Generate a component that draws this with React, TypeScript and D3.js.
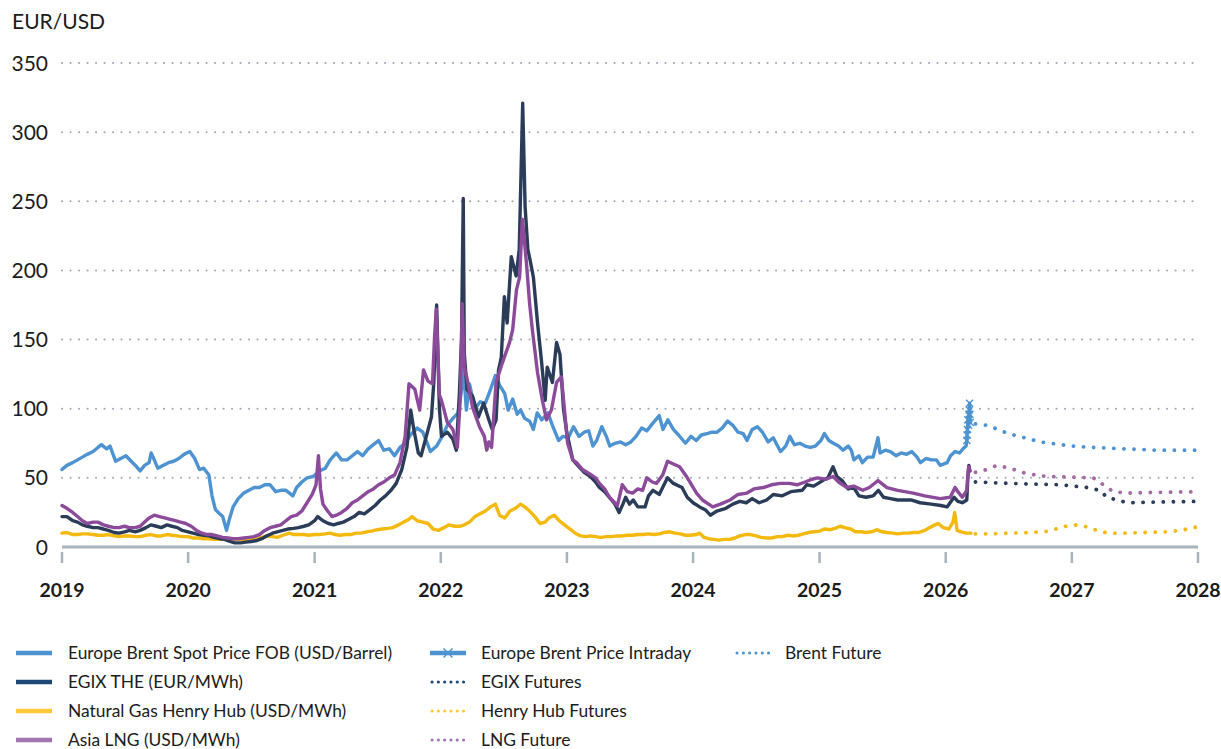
import React from "react";
import * as d3 from "d3";

type P = [string, number];

const yearTicks = [2019, 2020, 2021, 2022, 2023, 2024, 2025, 2026, 2027, 2028];
const yTicks = [0, 50, 100, 150, 200, 250, 300, 350];

const brentSpot: P[] = [
  ["2019-01-01",56],["2019-01-15",59],["2019-02-01",61],["2019-02-15",63],["2019-03-01",65],["2019-03-15",67],["2019-04-01",69],["2019-04-15",72],["2019-04-25",74],["2019-05-10",71],["2019-05-20",73],["2019-06-05",62],["2019-06-20",64],["2019-07-05",66],["2019-07-20",62],["2019-08-05",58],["2019-08-15",55],["2019-08-28",59],["2019-09-10",61],["2019-09-16",68],["2019-09-25",63],["2019-10-05",57],["2019-10-20",59],["2019-11-05",61],["2019-11-20",62],["2019-12-05",64],["2019-12-20",67],["2020-01-06",69],["2020-01-20",64],["2020-02-03",56],["2020-02-15",57],["2020-03-01",52],["2020-03-10",37],["2020-03-20",27],["2020-04-01",24],["2020-04-10",22],["2020-04-21",12],["2020-04-28",19],["2020-05-10",29],["2020-05-25",35],["2020-06-10",39],["2020-06-25",41],["2020-07-10",43],["2020-07-25",43],["2020-08-10",45],["2020-08-25",45],["2020-09-10",40],["2020-09-25",41],["2020-10-10",41],["2020-10-30",37],["2020-11-10",43],["2020-11-25",47],["2020-12-10",50],["2020-12-28",51],["2021-01-15",55],["2021-02-01",57],["2021-02-15",63],["2021-03-05",68],["2021-03-20",63],["2021-04-05",63],["2021-04-20",66],["2021-05-05",69],["2021-05-20",66],["2021-06-05",71],["2021-06-20",74],["2021-07-05",77],["2021-07-20",70],["2021-08-05",71],["2021-08-20",66],["2021-09-05",72],["2021-09-20",75],["2021-10-05",81],["2021-10-25",86],["2021-11-10",83],["2021-11-26",73],["2021-12-02",69],["2021-12-20",73],["2022-01-05",80],["2022-01-20",88],["2022-02-05",93],["2022-02-20",97],["2022-03-01",112],["2022-03-08",128],["2022-03-16",99],["2022-03-25",118],["2022-04-10",100],["2022-04-25",105],["2022-05-10",104],["2022-05-25",114],["2022-06-08",124],["2022-06-20",117],["2022-07-05",111],["2022-07-15",99],["2022-07-28",107],["2022-08-10",96],["2022-08-20",99],["2022-09-01",93],["2022-09-15",91],["2022-09-26",85],["2022-10-07",97],["2022-10-20",92],["2022-11-07",97],["2022-11-20",88],["2022-12-08",77],["2022-12-20",80],["2023-01-05",79],["2023-01-20",87],["2023-02-05",80],["2023-02-20",83],["2023-03-05",84],["2023-03-17",73],["2023-03-28",77],["2023-04-12",87],["2023-04-25",80],["2023-05-05",73],["2023-05-20",75],["2023-06-05",76],["2023-06-20",74],["2023-07-05",76],["2023-07-20",80],["2023-08-05",86],["2023-08-20",84],["2023-09-05",89],["2023-09-25",95],["2023-10-06",85],["2023-10-20",92],["2023-11-05",85],["2023-11-20",81],["2023-12-10",75],["2023-12-26",80],["2024-01-10",77],["2024-01-25",81],["2024-02-10",82],["2024-02-25",83],["2024-03-10",83],["2024-03-25",86],["2024-04-10",91],["2024-04-25",88],["2024-05-10",83],["2024-05-25",82],["2024-06-05",77],["2024-06-20",85],["2024-07-05",87],["2024-07-20",83],["2024-08-05",76],["2024-08-20",79],["2024-09-10",69],["2024-09-25",73],["2024-10-07",80],["2024-10-20",74],["2024-11-05",75],["2024-11-20",73],["2024-12-05",72],["2024-12-20",73],["2025-01-05",77],["2025-01-15",82],["2025-01-28",77],["2025-02-10",75],["2025-02-25",73],["2025-03-10",70],["2025-03-25",73],["2025-04-03",70],["2025-04-10",63],["2025-04-25",66],["2025-05-05",61],["2025-05-20",65],["2025-06-05",65],["2025-06-19",79],["2025-06-25",68],["2025-07-10",70],["2025-07-25",69],["2025-08-10",66],["2025-08-25",68],["2025-09-10",67],["2025-09-25",69],["2025-10-10",65],["2025-10-20",61],["2025-11-05",64],["2025-11-20",63],["2025-12-05",63],["2025-12-16",59],["2026-01-05",61],["2026-01-15",66],["2026-01-28",69],["2026-02-10",68],["2026-02-20",71],["2026-03-01",73],["2026-03-03",77]
];

const brentIntraday: P[] = [
  ["2026-03-03",77],["2026-03-04",81],["2026-03-05",85],["2026-03-06",92],["2026-03-08",88],["2026-03-09",96],["2026-03-10",99],["2026-03-11",104],["2026-03-12",96],["2026-03-13",90]
];

const brentFuture: P[] = [
  ["2026-03-28",89],["2026-05-01",88],["2026-06-01",85],["2026-07-01",82],["2026-08-01",80],["2026-09-01",78],["2026-10-01",76],["2026-11-01",75],["2026-12-01",74],["2027-01-01",73],["2027-03-01",72],["2027-06-01",71],["2027-09-01",70],["2027-12-31",70]
];

const egix: P[] = [
  ["2019-01-01",22],["2019-01-15",22],["2019-02-01",19],["2019-02-15",18],["2019-03-01",16],["2019-03-15",15],["2019-04-01",14],["2019-04-15",14],["2019-05-01",13],["2019-05-15",12],["2019-06-01",10.5],["2019-06-15",10],["2019-07-01",11],["2019-07-15",12],["2019-08-01",11],["2019-08-15",12],["2019-09-01",14],["2019-09-15",16],["2019-10-01",15],["2019-10-15",14],["2019-11-01",16],["2019-11-15",15],["2019-12-01",14],["2019-12-15",12],["2020-01-01",11],["2020-01-15",10],["2020-02-01",9],["2020-02-15",8.5],["2020-03-01",8],["2020-03-15",7],["2020-04-01",6],["2020-04-15",5.5],["2020-05-01",4],["2020-05-15",3],["2020-06-01",3],["2020-06-15",3.5],["2020-07-01",4],["2020-07-15",4.5],["2020-08-01",6],["2020-08-15",8],["2020-09-01",10],["2020-09-15",11],["2020-10-01",12],["2020-10-15",13],["2020-11-01",13.5],["2020-11-15",14],["2020-12-01",15],["2020-12-15",16],["2021-01-01",19],["2021-01-10",22],["2021-01-25",19],["2021-02-10",17],["2021-02-25",16],["2021-03-10",17],["2021-03-25",18],["2021-04-10",20],["2021-04-25",22],["2021-05-10",25],["2021-05-25",24],["2021-06-10",27],["2021-06-25",30],["2021-07-10",34],["2021-07-25",37],["2021-08-10",41],["2021-08-25",46],["2021-09-10",56],["2021-09-25",72],["2021-10-06",99],["2021-10-15",85],["2021-10-28",68],["2021-11-05",66],["2021-11-20",80],["2021-12-05",94],["2021-12-12",120],["2021-12-20",175],["2021-12-28",100],["2022-01-03",80],["2022-01-20",83],["2022-02-05",78],["2022-02-15",70],["2022-02-24",112],["2022-03-02",150],["2022-03-07",252],["2022-03-10",140],["2022-03-18",114],["2022-04-03",109],["2022-04-20",94],["2022-05-05",104],["2022-05-20",92],["2022-05-30",85],["2022-06-10",92],["2022-06-17",128],["2022-06-25",137],["2022-07-04",181],["2022-07-12",162],["2022-07-24",210],["2022-08-07",196],["2022-08-16",215],["2022-08-26",321],["2022-09-02",246],["2022-09-10",215],["2022-09-16",208],["2022-09-26",195],["2022-10-08",162],["2022-10-20",133],["2022-10-30",106],["2022-11-05",130],["2022-11-20",119],["2022-12-02",148],["2022-12-12",139],["2022-12-22",100],["2023-01-01",82],["2023-01-18",63],["2023-02-05",58],["2023-02-20",54],["2023-03-10",51],["2023-03-25",47],["2023-04-05",43],["2023-04-20",40],["2023-05-10",34],["2023-05-20",31],["2023-06-01",25],["2023-06-12",31],["2023-06-20",36],["2023-07-01",31],["2023-07-12",34],["2023-07-25",29],["2023-08-15",29],["2023-08-25",37],["2023-09-07",41],["2023-09-25",38],["2023-10-19",50],["2023-11-05",46],["2023-11-30",43],["2023-12-15",36],["2024-01-01",32],["2024-01-20",29],["2024-02-05",27],["2024-02-20",23],["2024-03-10",26],["2024-04-05",28],["2024-04-25",31],["2024-05-15",33],["2024-06-03",32],["2024-06-20",35],["2024-07-10",32],["2024-08-01",34],["2024-08-20",38],["2024-09-15",37],["2024-10-10",40],["2024-11-12",41],["2024-11-25",45],["2024-12-15",44],["2024-12-28",46],["2025-01-10",48],["2025-01-25",50],["2025-02-09",58],["2025-02-20",51],["2025-03-07",48],["2025-03-25",42],["2025-04-10",43],["2025-04-25",37],["2025-05-16",36],["2025-06-05",37],["2025-06-20",41],["2025-07-05",36],["2025-07-25",35],["2025-08-15",34],["2025-09-22",34],["2025-10-19",32],["2025-11-20",31],["2025-12-18",30],["2026-01-05",29],["2026-01-25",36],["2026-02-05",33],["2026-02-18",32],["2026-03-03",34],["2026-03-06",50],["2026-03-09",59],["2026-03-12",55]
];

const egixFutures: P[] = [
  ["2026-03-28",47],["2026-07-05",46],["2026-11-28",45],["2027-02-14",43],["2027-03-23",41],["2027-04-12",36],["2027-05-11",34],["2027-06-10",32],["2027-09-01",32.5],["2027-12-31",33]
];

const henryHub: P[] = [
  ["2019-01-01",10],["2019-01-15",10.5],["2019-02-01",9],["2019-02-15",9],["2019-03-01",9.5],["2019-03-15",9.5],["2019-04-01",9],["2019-04-15",8.5],["2019-05-01",8.5],["2019-05-15",9],["2019-06-01",8],["2019-06-15",7.5],["2019-07-01",8],["2019-07-15",8],["2019-08-01",7.5],["2019-08-15",7.5],["2019-09-01",8.5],["2019-09-15",9],["2019-10-01",8],["2019-10-15",8],["2019-11-01",9],["2019-11-15",8.5],["2019-12-01",8],["2019-12-15",7.5],["2020-01-01",7.5],["2020-01-15",6.5],["2020-02-01",6.5],["2020-02-15",6],["2020-03-01",6],["2020-03-15",5.5],["2020-04-01",5.5],["2020-04-15",6],["2020-05-01",6],["2020-05-15",5.5],["2020-06-01",5.5],["2020-06-15",5.5],["2020-07-01",6],["2020-07-15",6],["2020-08-01",7],["2020-08-15",8],["2020-09-01",7.5],["2020-09-15",7],["2020-10-01",8.5],["2020-10-20",10],["2020-11-01",9],["2020-11-15",9],["2020-12-01",9],["2020-12-15",8.5],["2021-01-01",9],["2021-01-15",9],["2021-02-01",9.5],["2021-02-15",10],["2021-03-01",9],["2021-03-15",8.5],["2021-04-01",9],["2021-04-15",9],["2021-05-01",10],["2021-05-15",10],["2021-06-01",11],["2021-06-15",11.5],["2021-07-01",12.5],["2021-07-15",13],["2021-08-01",13.5],["2021-08-15",14],["2021-09-01",16],["2021-09-15",18],["2021-10-01",20],["2021-10-10",22],["2021-10-25",19],["2021-11-10",18],["2021-11-25",17],["2021-12-10",13],["2021-12-25",12],["2022-01-10",14],["2022-01-25",16],["2022-02-10",15],["2022-02-25",15],["2022-03-10",16],["2022-03-25",18],["2022-04-10",22],["2022-04-25",24],["2022-05-10",26],["2022-05-25",29],["2022-06-08",31],["2022-06-20",23],["2022-07-05",21],["2022-07-20",26],["2022-08-05",28],["2022-08-20",31],["2022-09-01",29],["2022-09-15",26],["2022-09-30",22],["2022-10-15",17],["2022-10-30",18],["2022-11-10",21],["2022-11-25",23],["2022-12-10",19],["2022-12-25",16],["2023-01-10",13],["2023-01-25",10],["2023-02-10",8],["2023-02-25",7.5],["2023-03-10",8],["2023-03-25",7.5],["2023-04-10",7],["2023-04-25",7.5],["2023-05-10",7.5],["2023-05-25",8],["2023-06-10",8],["2023-06-25",8.5],["2023-07-10",8.5],["2023-07-25",9],["2023-08-10",9],["2023-08-25",9.5],["2023-09-10",9],["2023-09-25",9.5],["2023-10-10",10.5],["2023-10-25",11],["2023-11-10",10],["2023-11-25",9.5],["2023-12-10",8.5],["2023-12-25",8.5],["2024-01-10",9],["2024-01-20",10],["2024-02-01",7],["2024-02-15",6],["2024-03-01",5.5],["2024-03-15",5],["2024-04-01",5.5],["2024-04-15",5.5],["2024-05-01",6.5],["2024-05-15",8],["2024-06-01",9],["2024-06-15",9],["2024-07-01",8],["2024-07-15",7],["2024-08-01",6.5],["2024-08-15",6.5],["2024-09-01",7.5],["2024-09-15",7.5],["2024-10-01",8.5],["2024-10-15",8],["2024-11-01",8.5],["2024-11-15",9.5],["2024-12-01",10.5],["2024-12-15",11],["2025-01-01",11.5],["2025-01-15",13],["2025-02-01",12.5],["2025-02-15",13.5],["2025-03-01",15],["2025-03-15",14],["2025-04-01",13],["2025-04-15",11],["2025-05-01",11],["2025-05-15",10.5],["2025-06-01",11],["2025-06-15",12.5],["2025-07-01",11],["2025-07-15",10.5],["2025-08-01",10],["2025-08-15",9.5],["2025-09-01",10],["2025-09-15",10],["2025-10-01",10.5],["2025-10-15",10.5],["2025-11-01",12],["2025-11-15",14],["2025-12-01",16],["2025-12-10",17],["2025-12-25",14],["2026-01-10",13],["2026-01-22",18],["2026-01-27",25],["2026-02-03",12],["2026-02-15",11],["2026-03-01",10],["2026-03-15",10]
];

const henryHubFutures: P[] = [
  ["2026-03-28",9.5],["2026-05-01",9.5],["2026-07-01",10],["2026-09-01",10.5],["2026-10-15",11],["2026-11-15",13],["2026-12-15",15],["2027-01-15",16],["2027-02-15",14.5],["2027-03-15",12],["2027-04-15",10],["2027-06-01",10],["2027-08-01",10.5],["2027-10-01",11],["2027-11-15",12],["2027-12-15",14],["2027-12-31",14.5]
];

const asiaLng: P[] = [
  ["2019-01-01",30],["2019-01-15",28],["2019-02-01",25],["2019-02-15",22],["2019-03-01",19],["2019-03-15",17],["2019-04-01",18],["2019-04-15",18],["2019-05-01",16],["2019-05-15",15],["2019-06-01",14],["2019-06-15",14],["2019-07-01",15],["2019-07-15",14],["2019-08-01",14],["2019-08-15",15],["2019-09-01",19],["2019-09-10",21],["2019-09-25",23],["2019-10-10",22],["2019-10-25",21],["2019-11-10",20],["2019-11-25",19],["2019-12-10",18],["2019-12-25",17],["2020-01-10",15],["2020-01-25",12],["2020-02-10",10],["2020-02-25",9],["2020-03-10",9],["2020-03-25",8],["2020-04-10",7],["2020-04-25",6.5],["2020-05-10",6],["2020-05-25",6],["2020-06-10",6.5],["2020-06-25",7],["2020-07-10",7.5],["2020-07-25",9],["2020-08-10",12],["2020-08-25",14],["2020-09-10",15],["2020-09-25",16],["2020-10-10",19],["2020-10-25",22],["2020-11-10",23],["2020-11-25",26],["2020-12-10",32],["2020-12-25",38],["2021-01-05",45],["2021-01-12",66],["2021-01-18",42],["2021-01-25",31],["2021-02-05",27],["2021-02-20",22],["2021-03-05",23],["2021-03-20",25],["2021-04-05",28],["2021-04-20",32],["2021-05-05",34],["2021-05-20",37],["2021-06-05",40],["2021-06-20",42],["2021-07-05",45],["2021-07-20",47],["2021-08-05",50],["2021-08-20",52],["2021-09-05",61],["2021-09-20",80],["2021-10-01",118],["2021-10-18",114],["2021-11-01",99],["2021-11-12",128],["2021-11-25",120],["2021-12-08",118],["2021-12-14",152],["2021-12-19",172],["2021-12-28",110],["2022-01-03",106],["2022-01-20",90],["2022-02-05",85],["2022-02-18",72],["2022-02-27",110],["2022-03-04",176],["2022-03-10",130],["2022-03-17",123],["2022-04-03",101],["2022-04-23",87],["2022-05-07",80],["2022-05-14",70],["2022-05-20",76],["2022-05-28",72],["2022-06-10",119],["2022-06-28",133],["2022-07-19",148],["2022-07-28",157],["2022-08-08",186],["2022-08-17",195],["2022-08-25",237],["2022-09-06",205],["2022-09-15",176],["2022-09-23",157],["2022-10-08",126],["2022-10-22",106],["2022-11-03",92],["2022-11-17",99],["2022-12-02",119],["2022-12-16",123],["2022-12-25",99],["2023-01-03",75],["2023-01-18",63],["2023-01-29",61],["2023-02-15",56],["2023-03-07",53],["2023-03-25",50],["2023-04-05",46],["2023-04-20",42],["2023-05-04",36],["2023-05-27",30],["2023-06-10",45],["2023-06-25",40],["2023-07-10",39],["2023-07-25",42],["2023-08-08",41],["2023-08-20",50],["2023-09-05",47],["2023-09-17",46],["2023-10-05",52],["2023-10-19",62],["2023-11-05",60],["2023-11-23",58],["2023-12-13",51],["2024-01-11",39],["2024-01-28",34],["2024-02-27",29],["2024-03-20",31],["2024-04-17",34],["2024-05-10",38],["2024-06-05",39],["2024-06-25",42],["2024-07-22",43],["2024-08-15",45],["2024-09-09",46],["2024-10-05",46],["2024-10-28",45],["2024-11-20",47],["2024-12-10",49],["2024-12-26",50],["2025-01-20",49],["2025-02-09",51],["2025-02-25",47],["2025-03-21",43],["2025-04-10",44],["2025-05-06",41],["2025-05-25",43],["2025-06-19",48],["2025-07-15",43],["2025-08-15",41],["2025-09-29",39],["2025-11-01",37],["2025-12-16",35],["2026-01-14",36],["2026-01-28",43],["2026-02-05",40],["2026-02-18",36],["2026-03-03",41],["2026-03-06",52],["2026-03-09",58],["2026-03-12",55]
];

const lngFuture: P[] = [
  ["2026-03-28",54],["2026-04-30",56],["2026-05-29",59],["2026-07-05",57],["2026-08-24",53],["2026-10-20",51],["2027-01-01",50.5],["2027-03-04",50],["2027-04-02",45],["2027-05-01",40],["2027-06-10",39],["2027-09-01",39.5],["2027-12-31",40]
];

const C = {
  brent: "#4d93d1",
  egix: "#2b3c58",
  egixLegend: "#1d4775",
  hh: "#f4b90f",
  hhLegend: "#fcc93a",
  lng: "#8b4a9a",
  lngLegend: "#a274b0",
  lngFut: "#a46aa3",
  grid: "#9caab7",
  axis: "#a8b3bd",
  text: "#1b1b1b",
};

const FONT = "Lato, 'Open Sans', sans-serif";

const parse = d3.timeParse("%Y-%m-%d");

export default function App() {
  const x = d3.scaleTime().domain([new Date(2019, 0, 1), new Date(2028, 0, 1)]).range([62, 1198]);
  const y = d3.scaleLinear().domain([0, 350]).range([547, 63]);
  const line = d3
    .line<P>()
    .x((d) => x(parse(d[0]) as Date))
    .y((d) => y(d[1]))
    .curve(d3.curveLinear);

  const solid = (data: P[], color: string) => (
    <path d={line(data) || ""} fill="none" stroke={color} strokeWidth={3.4} strokeLinejoin="round" strokeLinecap="round" />
  );
  const dotted = (data: P[], color: string) => (
    <path d={line(data) || ""} fill="none" stroke={color} strokeWidth={3.8} strokeLinecap="round" strokeDasharray="0.1 10" />
  );

  const cross = (cx: number, cy: number, color: string, s = 3.5, key?: string) => (
    <g key={key}>
      <line x1={cx - s} y1={cy - s} x2={cx + s} y2={cy + s} stroke={color} strokeWidth={1.4} />
      <line x1={cx - s} y1={cy + s} x2={cx + s} y2={cy - s} stroke={color} strokeWidth={1.4} />
    </g>
  );

  const legendRows = [653, 682, 711, 740];

  return (
    <svg width={1221} height={749} style={{ position: "absolute", left: 0, top: 0, background: "#fff" }} fontFamily={FONT}>
      <text x={12} y={29} fontSize={21} fill={C.text}>EUR/USD</text>

      {yTicks.filter((t) => t > 0).map((t) => (
        <line key={"g" + t} x1={62} x2={1198} y1={y(t)} y2={y(t)} stroke={C.grid} strokeWidth={2} strokeLinecap="round" strokeDasharray="0.1 8.4" />
      ))}
      {yTicks.map((t) => (
        <text key={"yl" + t} x={48} y={y(t)} dy="0.36em" textAnchor="end" fontSize={21} fill={C.text}>{t}</text>
      ))}

      <line x1={62} x2={1198} y1={y(0)} y2={y(0)} stroke={C.axis} strokeWidth={3} />
      {yearTicks.map((yr) => {
        const xx = x(new Date(yr, 0, 1));
        return (
          <g key={"yr" + yr}>
            <line x1={xx} x2={xx} y1={552} y2={563} stroke={C.axis} strokeWidth={2.5} />
            <text x={xx} y={597} textAnchor="middle" fontSize={19.5} fontWeight={700} fill={C.text}>{yr}</text>
          </g>
        );
      })}

      {solid(henryHub, C.hh)}
      {dotted(henryHubFutures, C.hh)}
      {solid(brentSpot, C.brent)}
      {dotted(brentFuture, C.brent)}
      {solid(brentIntraday, C.brent)}
      {brentIntraday.map((d, i) => cross(x(parse(d[0]) as Date), y(d[1]), C.brent, 3.5, "bi" + i))}
      {solid(egix, C.egix)}
      {dotted(egixFutures, C.egix)}
      {solid(asiaLng, C.lng)}
      {dotted(lngFuture, C.lngFut)}

      {/* Legend */}
      <g fontSize={17.4} fill={C.text}>
        <line x1={16} x2={52} y1={legendRows[0]} y2={legendRows[0]} stroke={C.brent} strokeWidth={4.5} />
        <text x={68} y={legendRows[0]} dy="0.36em">Europe Brent Spot Price FOB (USD/Barrel)</text>
        <line x1={430} x2={466} y1={legendRows[0]} y2={legendRows[0]} stroke={C.brent} strokeWidth={4.5} />
        {cross(448, legendRows[0], C.brent, 4.5)}
        <text x={481} y={legendRows[0]} dy="0.36em">Europe Brent Price Intraday</text>
        <line x1={737} x2={769} y1={legendRows[0]} y2={legendRows[0]} stroke={C.brent} strokeWidth={3} strokeLinecap="round" strokeDasharray="0.1 6.2" />
        <text x={785} y={legendRows[0]} dy="0.36em">Brent Future</text>

        <line x1={16} x2={52} y1={legendRows[1]} y2={legendRows[1]} stroke={C.egixLegend} strokeWidth={4.5} />
        <text x={68} y={legendRows[1]} dy="0.36em">EGIX THE (EUR/MWh)</text>
        <line x1={432} x2={464} y1={legendRows[1]} y2={legendRows[1]} stroke={C.egixLegend} strokeWidth={3} strokeLinecap="round" strokeDasharray="0.1 6.2" />
        <text x={481} y={legendRows[1]} dy="0.36em">EGIX Futures</text>

        <line x1={16} x2={52} y1={legendRows[2]} y2={legendRows[2]} stroke={C.hhLegend} strokeWidth={4.5} />
        <text x={68} y={legendRows[2]} dy="0.36em">Natural Gas Henry Hub (USD/MWh)</text>
        <line x1={432} x2={464} y1={legendRows[2]} y2={legendRows[2]} stroke={C.hhLegend} strokeWidth={3} strokeLinecap="round" strokeDasharray="0.1 6.2" />
        <text x={481} y={legendRows[2]} dy="0.36em">Henry Hub Futures</text>

        <line x1={16} x2={52} y1={legendRows[3]} y2={legendRows[3]} stroke={C.lngLegend} strokeWidth={4.5} />
        <text x={68} y={legendRows[3]} dy="0.36em">Asia LNG (USD/MWh)</text>
        <line x1={432} x2={464} y1={legendRows[3]} y2={legendRows[3]} stroke={C.lngLegend} strokeWidth={3} strokeLinecap="round" strokeDasharray="0.1 6.2" />
        <text x={481} y={legendRows[3]} dy="0.36em">LNG Future</text>
      </g>
    </svg>
  );
}
